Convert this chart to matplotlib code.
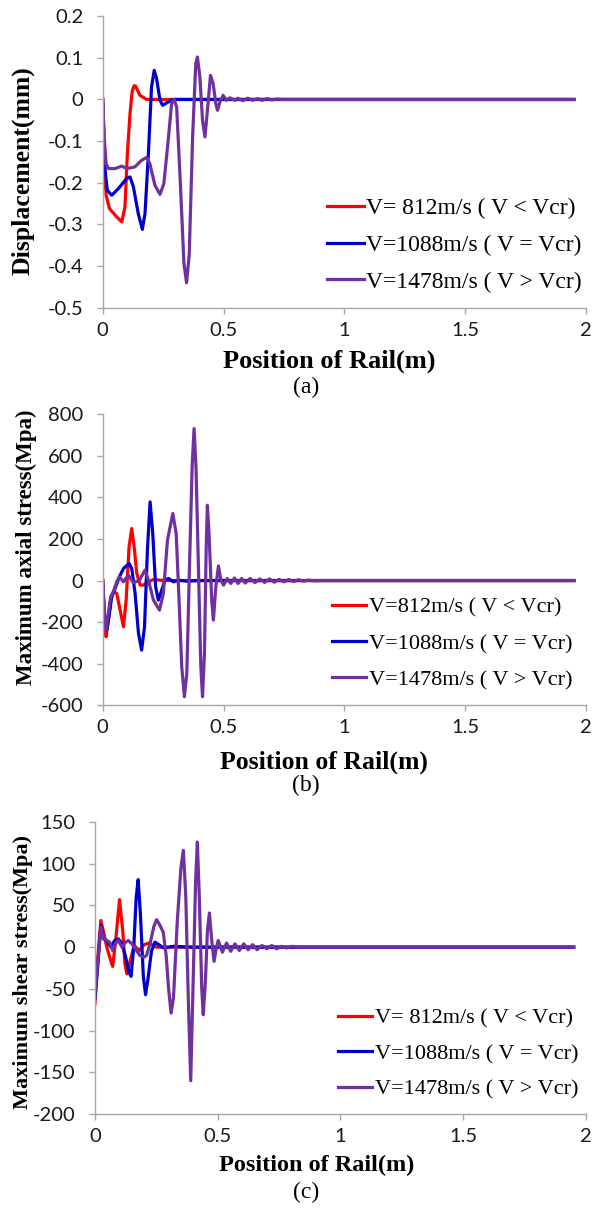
import matplotlib
matplotlib.use('Agg')
import matplotlib.pyplot as plt

# ── data ──────────────────────────────────────────────────────────
LABELS_A = ['V= 812m/s ( V < Vcr)', 'V=1088m/s ( V = Vcr)', 'V=1478m/s ( V > Vcr)']
LABELS_B = ['V=812m/s ( V < Vcr)', 'V=1088m/s ( V = Vcr)', 'V=1478m/s ( V > Vcr)']
LABELS_C = LABELS_A

# (a) displacement (mm)
A_RED_X = [0, 0.005, 0.014, 0.028, 0.058, 0.079, 0.092, 0.102, 0.113, 0.122, 0.13, 0.136, 0.154,
           0.182, 0.3, 1.95]
A_RED_Y = [0, -0.15, -0.23, -0.262, -0.282, -0.294, -0.258, -0.13, -0.034, 0.02, 0.033, 0.032, 0.01,
           0, 0, 0]
A_BLUE_X = [0, 0.01, 0.019, 0.037, 0.065, 0.099, 0.113, 0.127, 0.147, 0.164, 0.175, 0.189, 0.202,
            0.213, 0.223, 0.237, 0.248, 0.271, 0.292, 1.95]
A_BLUE_Y = [0, -0.17, -0.218, -0.23, -0.214, -0.19, -0.186, -0.21, -0.274, -0.312, -0.274, -0.13, 0.03,
            0.07, 0.05, -0.002, -0.014, -0.006, 0, 0]
A_PURP_X = [0, 0.006, 0.014, 0.024, 0.051, 0.079, 0.099, 0.133, 0.161, 0.182, 0.195, 0.216, 0.237,
            0.253, 0.271, 0.285, 0.295, 0.306, 0.322, 0.336, 0.347, 0.358, 0.372, 0.385, 0.392, 0.402,
            0.413, 0.423, 0.432, 0.446, 0.457, 0.468, 0.475, 0.485, 0.498, 0.512, 0.526, 0.547, 0.56,
            0.58, 0.6, 0.62, 0.64, 0.66, 0.68, 0.7, 0.72, 0.75, 1.95]
A_PURP_Y = [0, -0.09, -0.155, -0.166, -0.166, -0.16, -0.166, -0.162, -0.146, -0.139, -0.154, -0.206,
            -0.228, -0.202, -0.098, -0.01, 0.0, -0.018, -0.21, -0.394, -0.44, -0.372, -0.09, 0.086,
            0.102, 0.054, -0.05, -0.09, -0.034, 0.058, 0.038, -0.01, -0.026, -0.006, 0.01, -0.002,
            0.004, -0.002, 0.003, -0.003, 0.003, -0.002, 0.002, -0.002, 0.002, -0.001, 0.001, 0, 0]

# (b) maximum axial stress (MPa)
B_RED_X = [0, 0.008, 0.014, 0.023, 0.033, 0.044, 0.058, 0.072, 0.086, 0.097, 0.109, 0.12, 0.13,
           0.141, 0.155, 0.168, 0.189, 0.21, 0.237, 0.258, 1.95]
B_RED_Y = [0, -222, -270, -190, -94, -54, -62, -142, -222, -94, 162, 250, 162, 34, -22, -22, -6, 5,
           2, 0, 0]
B_BLUE_X = [0, 0.008, 0.017, 0.028, 0.037, 0.051, 0.069, 0.086, 0.109, 0.12, 0.134, 0.148, 0.161,
            0.173, 0.185, 0.196, 0.207, 0.219, 0.23, 0.244, 0.258, 0.272, 0.293, 0.313, 0.348, 0.4, 1.95]
B_BLUE_Y = [0, -190, -238, -158, -78, -38, 18, 58, 82, 58, -62, -254, -334, -222, 146, 378, 226,
            -30, -94, -46, 2, 10, -6, 2, -3, 0, 0]
B_PURP_X = [0, 0.008, 0.014, 0.023, 0.033, 0.044, 0.058, 0.069, 0.086, 0.106, 0.127, 0.152, 0.175,
            0.189, 0.21, 0.235, 0.251, 0.268, 0.29, 0.304, 0.317, 0.327, 0.338, 0.348, 0.359, 0.37,
            0.378, 0.386, 0.396, 0.406, 0.413, 0.421, 0.428, 0.433, 0.44, 0.451, 0.458, 0.468, 0.479,
            0.489, 0.5, 0.515, 0.53, 0.545, 0.56, 0.575, 0.59, 0.61, 0.63, 0.65, 0.67, 0.69, 0.71,
            0.73, 0.75, 0.77, 0.79, 0.81, 0.83, 0.85, 0.88, 0.9, 1.95]
B_PURP_Y = [0, -174, -238, -158, -78, -54, -6, 18, -6, 26, -11, 2, 50, 2, -94, -142, -62, 194, 322,
            226, -126, -414, -558, -446, 66, 546, 730, 546, 66, -414, -558, -350, 146, 362, 226, -94,
            -190, -30, 70, 2, -22, 10, -14, 12, -14, 10, -12, 10, -10, 8, -9, 8, -8, 6, -6, 5, -5, 4,
            -3, 2, -1, 0, 0]

# (c) maximum shear stress (MPa)
C_RED_X = [0, 0.012, 0.024, 0.035, 0.048, 0.06, 0.072, 0.085, 0.1, 0.113, 0.122, 0.13, 0.14, 0.16,
           0.18, 0.2, 0.22, 0.25, 1.95]
C_RED_Y = [-68, -10, 32, 18, 0, -12, -23, 10, 57, 20, -20, -32, -20, 2, -4, 3, 5, 0, 0]
C_BLUE_X = [0, 0.012, 0.024, 0.035, 0.048, 0.065, 0.08, 0.095, 0.11, 0.125, 0.138, 0.147, 0.158,
            0.168, 0.176, 0.185, 0.197, 0.206, 0.215, 0.23, 0.244, 0.26, 0.28, 0.32, 0.4, 1.95]
C_BLUE_Y = [-62, -20, 26, 10, 8, 0, 8, 10, 4, -12, -30, -35, 0, 60, 81, 40, -35, -57, -40, -5, 6, 3,
            -1, 1, 0, 0]
C_PURP_X = [0, 0.012, 0.024, 0.035, 0.048, 0.06, 0.072, 0.085, 0.095, 0.11, 0.125, 0.136, 0.15,
            0.165, 0.183, 0.2, 0.21, 0.225, 0.24, 0.251, 0.265, 0.278, 0.29, 0.3, 0.31, 0.32, 0.335,
            0.35, 0.36, 0.37, 0.38, 0.39, 0.4, 0.41, 0.417, 0.425, 0.435, 0.441, 0.45, 0.458, 0.466,
            0.475, 0.485, 0.495, 0.502, 0.519, 0.536, 0.553, 0.57, 0.588, 0.606, 0.624, 0.642, 0.66,
            0.68, 0.7, 0.72, 0.74, 0.76, 0.78, 0.8, 0.83, 1.95]
C_PURP_Y = [-55, -15, 24, 10, 8, 6, -4, 5, 8, 0, 6, 8, 4, -2, -10, -12, -10, 5, 25, 33, 26, 18, -10,
            -50, -79, -60, 30, 95, 116, 60, -60, -160, -40, 80, 126, 60, -50, -81, -40, 20, 41, 10,
            -17, 0, 8, -6, 5, -5, 4, -4, 4, -3, 3, -3, 2, -2, 2, -2, 1, -1, 1, 0, 0]

COLORS = ['#FF0000', '#0000CC', '#7030A0']
AXIS_GRAY = '#A6A6A6'
SERIF = ['Liberation Serif', 'DejaVu Serif']
SANS = ['Lato', 'DejaVu Sans']

fig = plt.figure(figsize=(6, 12.08), dpi=100)

panels = [
    dict(rect=[0.1712, 0.7453, 0.8055, 0.2413], xs=[A_RED_X, A_BLUE_X, A_PURP_X],
         ys=[A_RED_Y, A_BLUE_Y, A_PURP_Y], labels=LABELS_A, ylim=(-0.5, 0.2), step=0.1,
         fmt=lambda v: '0' if abs(v) < 1e-9 else f'{v:.1f}', ylabel='Displacement(mm)',
         ylab=(-0.14, 0.469, 18.5), xlab=(0.468, -0.183, 19), tag=('(a)', 0.42, -0.275),
         leg=(0.464, 0.377, 17, 0.64)),
    dict(rect=[0.1712, 0.4160, 0.8055, 0.2413], xs=[B_RED_X, B_BLUE_X, B_PURP_X],
         ys=[B_RED_Y, B_BLUE_Y, B_PURP_Y], labels=LABELS_B, ylim=(-600, 800), step=200,
         fmt=lambda v: f'{v:.0f}', ylabel='Maximum axial stress(Mpa)',
         ylab=(-0.136, 0.542, 16.5), xlab=(0.458, -0.194, 18.5), tag=('(b)', 0.42, -0.276),
         leg=(0.474, 0.371, 16, 0.7)),
    dict(rect=[0.1583, 0.0778, 0.8183, 0.2417], xs=[C_RED_X, C_BLUE_X, C_PURP_X],
         ys=[C_RED_Y, C_BLUE_Y, C_PURP_Y], labels=LABELS_C, ylim=(-200, 150), step=50,
         fmt=lambda v: f'{v:.0f}', ylabel='Maximum shear stress(Mpa)',
         ylab=(-0.126, 0.486, 16), xlab=(0.452, -0.175, 17.5), tag=('(c)', 0.43, -0.27),
         leg=(0.495, 0.362, 16, 0.66)),
]

for p in panels:
    ax = fig.add_axes(p['rect'])
    for x, y, c, lab in zip(p['xs'], p['ys'], COLORS, p['labels']):
        ax.plot(x, y, color=c, lw=2.3, label=lab, solid_joinstyle='round')

    lo, hi = p['ylim']
    ax.set_xlim(0, 2)
    ax.set_ylim(lo, hi)
    n = int(round((hi - lo) / p['step']))
    yt = [lo + i * p['step'] for i in range(n + 1)]
    ax.set_yticks(yt)
    ax.set_yticklabels([p['fmt'](v) for v in yt])
    ax.set_xticks([0, 0.5, 1, 1.5, 2])
    ax.set_xticklabels(['0', '0.5', '1', '1.5', '2'])

    for s in ['top', 'right']:
        ax.spines[s].set_visible(False)
    for s in ['left', 'bottom']:
        ax.spines[s].set_color(AXIS_GRAY)
        ax.spines[s].set_linewidth(1.0)
    ax.tick_params(axis='both', direction='out', length=4, width=1.0, color=AXIS_GRAY,
                   labelcolor='#1a1a1a', labelsize=14.5)
    ax.tick_params(axis='x', pad=6)
    ax.tick_params(axis='y', pad=10)
    for t in ax.get_xticklabels() + ax.get_yticklabels():
        t.set_family(SANS)

    lx, ly, lsz = p['ylab']
    ax.set_ylabel(p['ylabel'], family=SERIF, fontweight='bold', fontsize=lsz)
    ax.yaxis.set_label_coords(lx, ly)
    xx, xy, xsz = p['xlab']
    ax.set_xlabel('Position of Rail(m)', family=SERIF, fontweight='bold', fontsize=xsz)
    ax.xaxis.set_label_coords(xx, xy)
    ax.xaxis.label.set_verticalalignment('center')
    tag, tx, ty = p['tag']
    ax.text(tx, ty, tag, transform=ax.transAxes, family=SERIF, fontsize=17,
            ha='center', va='center')

    bx, by, fs, sp = p['leg']
    ax.legend(loc='upper left', bbox_to_anchor=(bx, by), frameon=False, prop={'family': SERIF, 'size': fs},
              handlelength=1.55, handletextpad=0.12, labelspacing=sp, borderpad=0, borderaxespad=0)

fig.savefig('out.png', dpi=100)
